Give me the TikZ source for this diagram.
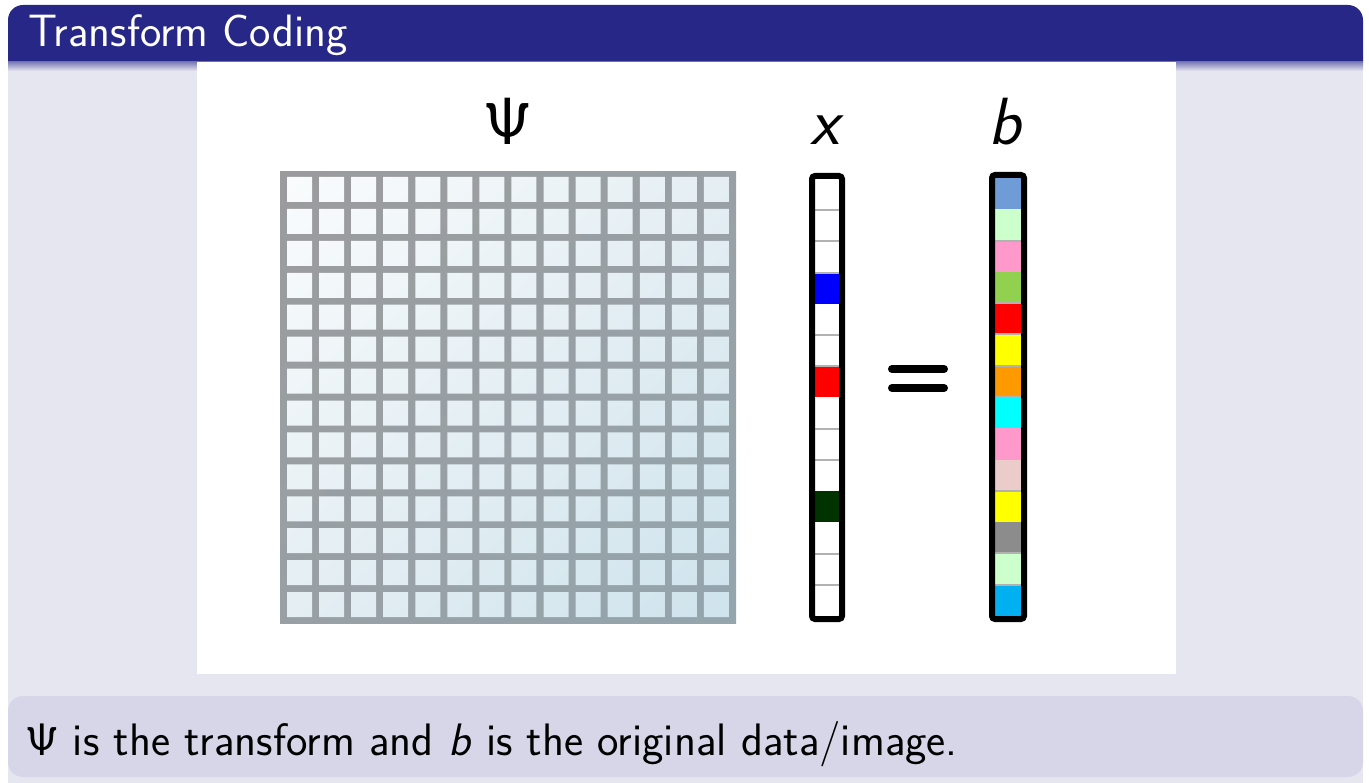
\documentclass[tikz,border=0pt]{standalone}
\usepackage{fix-cm}
\usepackage{tikz}
\usetikzlibrary{positioning,calc,shadings}
\definecolor{beamerblue}{RGB}{38,39,134}
\definecolor{blockbody}{RGB}{230,230,240}
\definecolor{noteblock}{RGB}{215,214,232}
\definecolor{gridlight}{RGB}{155,155,157}
\definecolor{gridmid}{RGB}{152,160,165}
\definecolor{griddark}{RGB}{148,165,173}
\definecolor{celllight}{RGB}{250,252,253}
\definecolor{cellmid}{RGB}{228,238,243}
\definecolor{celldark}{RGB}{206,227,236}
\definecolor{bA}{RGB}{111,155,215}
\definecolor{bB}{RGB}{204,255,204}
\definecolor{bC}{RGB}{255,153,204}
\definecolor{bD}{RGB}{146,208,80}
\definecolor{bE}{RGB}{255,0,0}
\definecolor{bF}{RGB}{255,255,0}
\definecolor{bG}{RGB}{255,153,0}
\definecolor{bH}{RGB}{0,255,255}
\definecolor{bI}{RGB}{235,204,202}
\definecolor{bJ}{RGB}{140,140,140}
\definecolor{bK}{RGB}{0,176,240}
\definecolor{xgreen}{RGB}{0,51,0}
\tikzset{
  heading/.style={font=\sffamily\fontsize{25.8}{30}\selectfont,text=white,anchor=base west,inner sep=0pt},
  bodytext/.style={font=\sffamily\fontsize{25.9}{30}\selectfont,text=black,anchor=base west,inner sep=0pt},
  veclabel/.style={font=\sffamily\fontsize{38}{44}\selectfont,anchor=base,inner sep=0pt},
  vecframe/.style={draw=black,line width=0.12cm,rounded corners=0.06cm},
  sepline/.style={draw=gray!60,line width=0.04cm},
  eqbar/.style={line width=0.16cm,line cap=round},
}
\begin{document}
\begin{tikzpicture}[x=0.02cm,y=-0.02cm]
\useasboundingbox (0,0) rectangle (1369,783);
% block frame
\fill[blockbody] (8,62) rectangle (1363,783);
\fill[beamerblue] (8,62) [rounded corners=0.3cm] -- (8,5) -- (1363,5) [sharp corners] -- (1363,62) -- cycle;
\shade[top color=beamerblue!55!blockbody,bottom color=blockbody] (8,62) rectangle (1363,71);
\node[heading] (title) at (28,47) {Transform Coding};
\fill[white] (197,62) rectangle (1176,674);

% transform matrix
\shade[upper left=gridlight,upper right=gridmid,lower left=gridmid,lower right=griddark] (280,172) rectangle (736,623);
\begin{scope}
  \clip \foreach \i in {0,...,13}{\foreach \j in {0,...,13}{
    ({287+32.07*\i},{177+31.93*\j}) rectangle ++(25,25)}};
  \shade[upper left=celllight,upper right=cellmid,lower left=cellmid,lower right=celldark] (280,172) rectangle (736,623);
\end{scope}
\node[veclabel] (psi) at (508,145) {$\mathsf{\Psi}$};

% sparse vector x
\fill[blue] (815,{179+3*31.21}) rectangle ++(24,31.21);
\fill[red] (815,{179+6*31.21}) rectangle ++(24,31.21);
\fill[xgreen] (815,{179+10*31.21}) rectangle ++(24,31.21);
\foreach \k in {1,2,3,5,6,8,9,12,13}
  \draw[sepline] (815,{179+\k*31.21}) -- ++(24,0);
\draw[vecframe] (812,176) rectangle (842,619);
\node[veclabel] (xlab) at (827,145) {\textit{x}};

% equals sign
\coordinate (eqa) at (892,369);
\coordinate (eqb) at (944,369);
\coordinate (eqc) at (892,388);
\coordinate (eqd) at (944,388);
\draw[eqbar] (eqa) -- (eqb);
\draw[eqbar] (eqc) -- (eqd);

% data vector b
\foreach \c [count=\k from 0] in {bA,bB,bC,bD,bE,bF,bG,bH,bC,bI,bF,bJ,bB,bK}
  \fill[\c] (995,{178+\k*31.29}) rectangle ++(26,31.29);
\foreach \k in {2,4,5,6,7,10,12,13}
  \draw[sepline] (995,{178+\k*31.29}) -- ++(26,0);
\draw[vecframe] (992,175) rectangle (1024,619);
\node[veclabel] (blab) at (1006,145) {\textit{b}};

% note below
\fill[noteblock,rounded corners=0.3cm] (8,696) rectangle (1363,777);
\node[bodytext] (note) at (25,755) {$\mathsf{\Psi}$ is the transform and \textit{b} is the original data/image.};
\end{tikzpicture}
\end{document}
